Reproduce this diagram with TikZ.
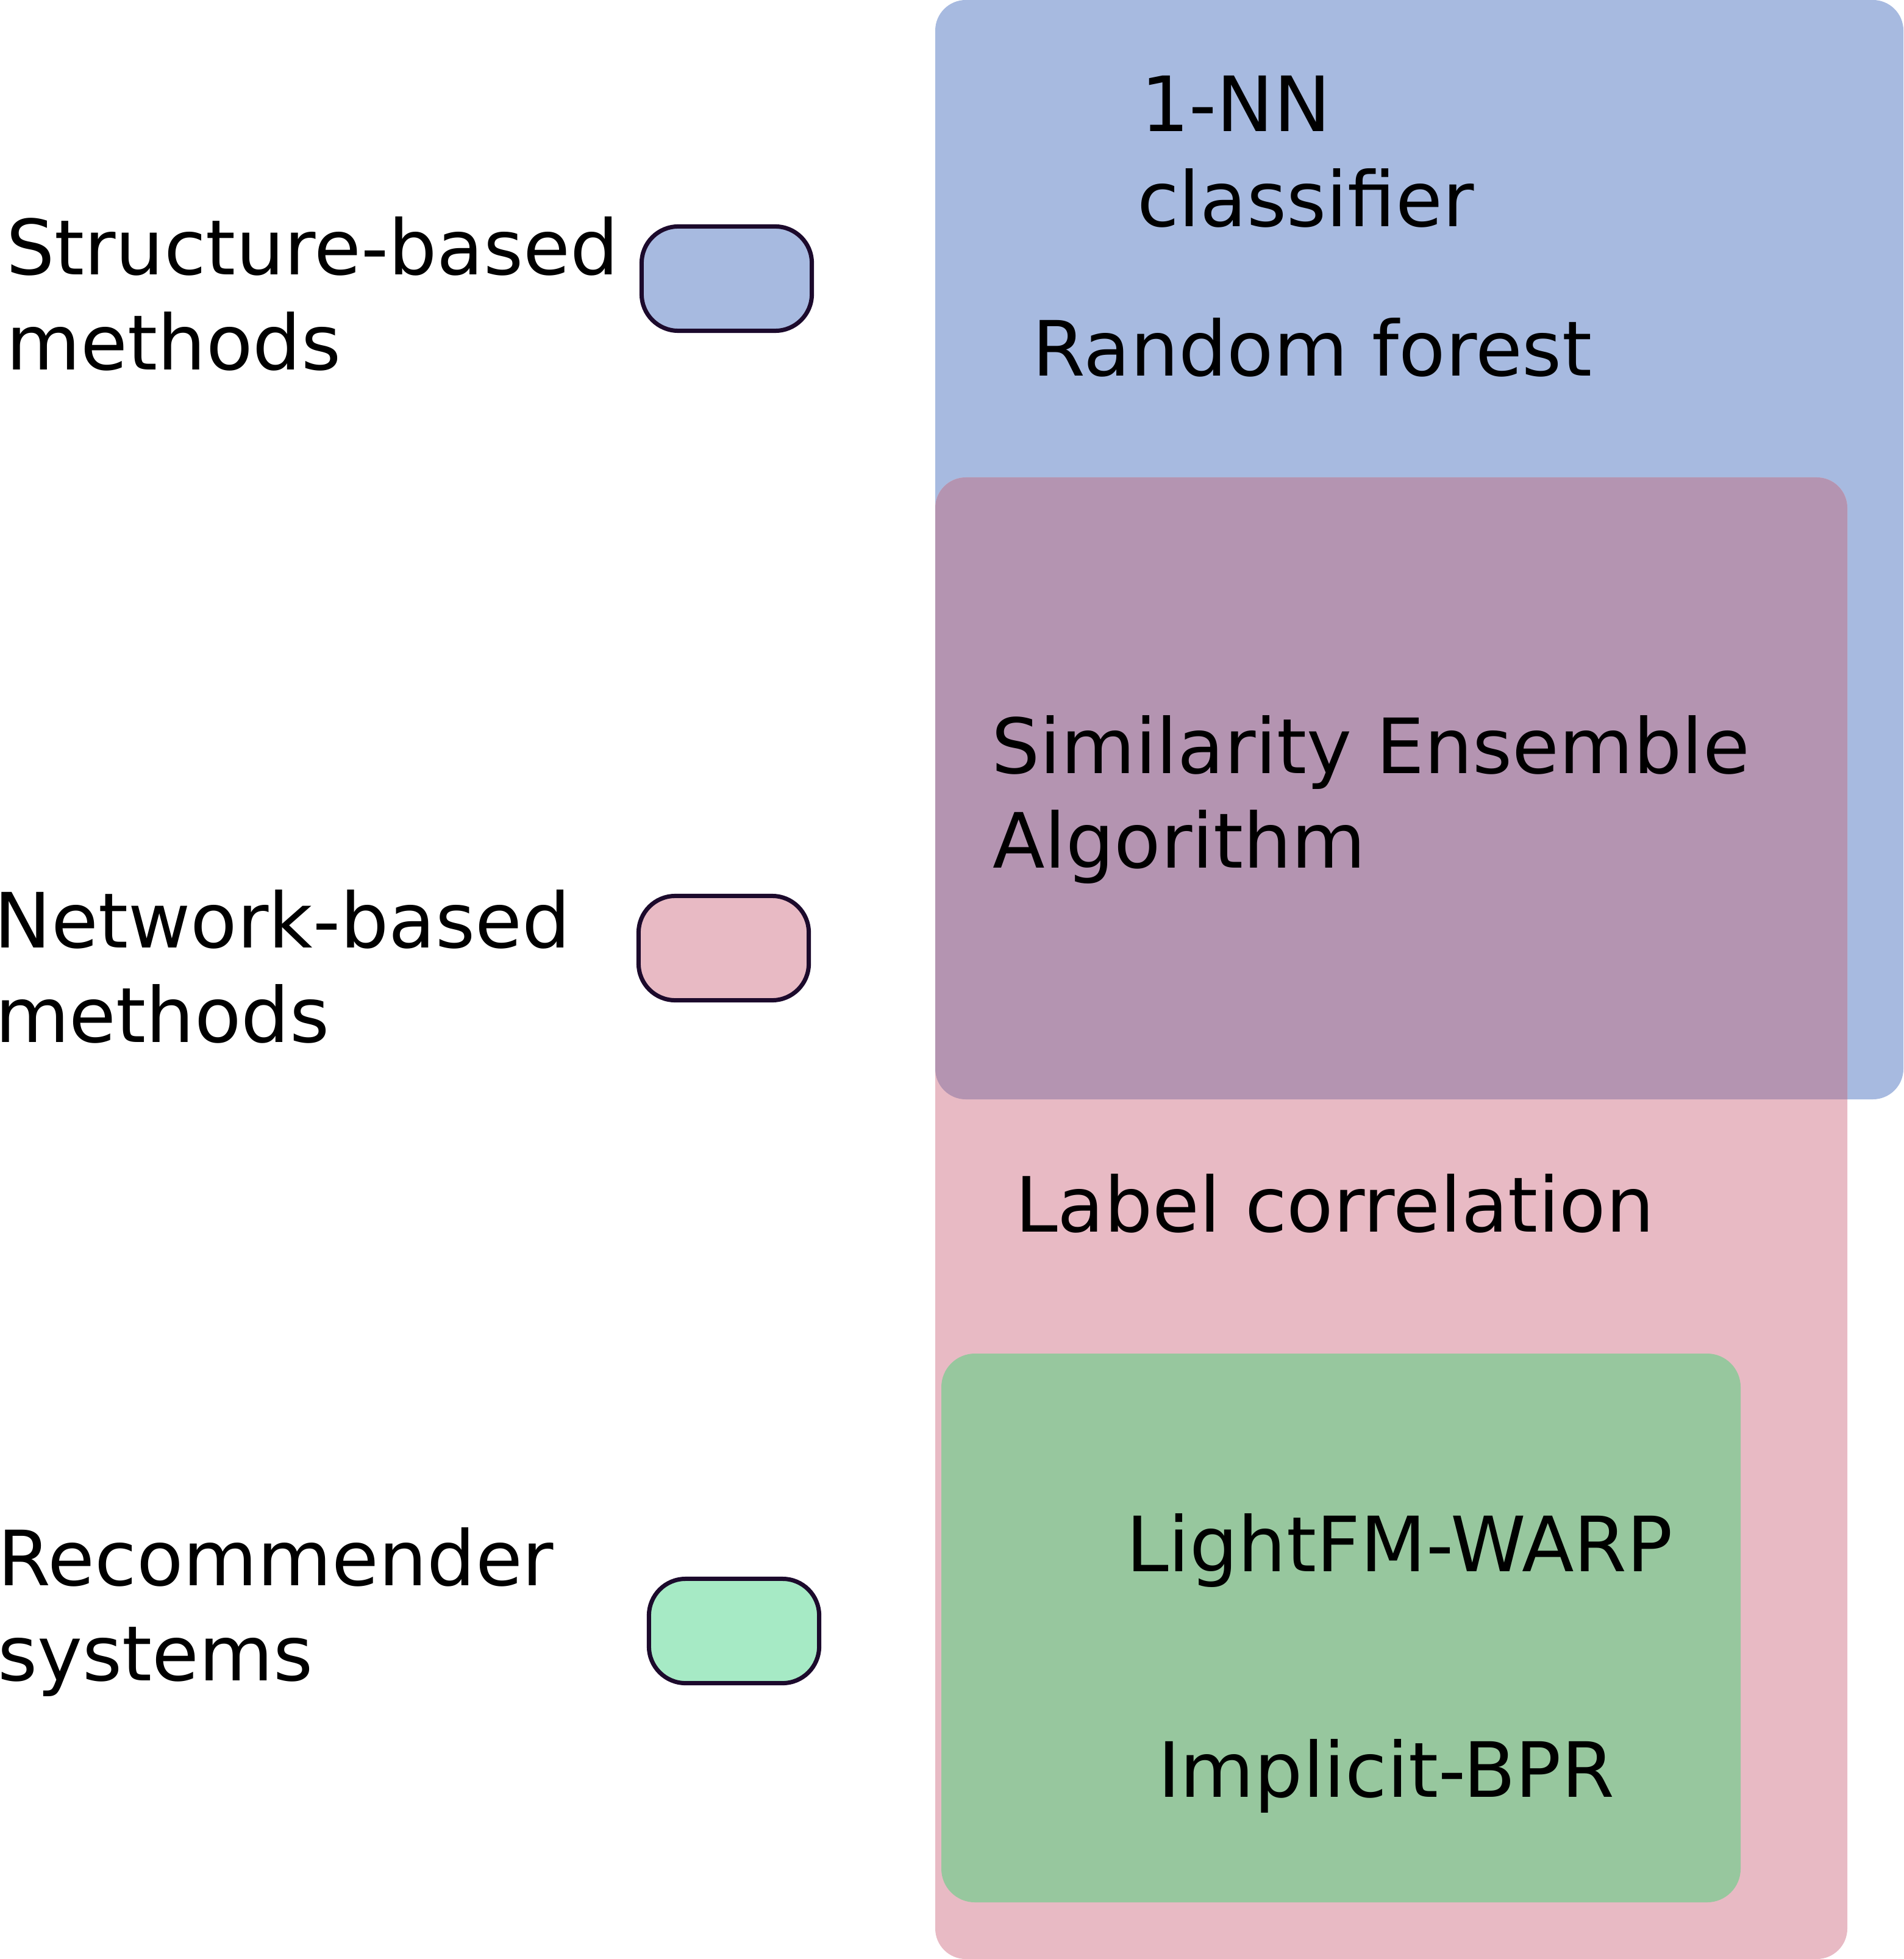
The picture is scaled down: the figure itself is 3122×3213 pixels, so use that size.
\documentclass[tikz,border=0pt]{standalone}
\usepackage{fontspec}
\setmainfont{DejaVu Sans}
\definecolor{blueC}{HTML}{A7BAE0}
\definecolor{pinkC}{HTML}{E8BAC4}
\definecolor{purpC}{HTML}{B494B1}
\definecolor{greenC}{HTML}{97C79E}
\definecolor{mintC}{HTML}{A6EAC5}
\definecolor{bordC}{HTML}{1C0A2C}
\begin{document}
\begin{tikzpicture}[x=0.01cm,y=-0.01cm,
  txt/.style={anchor=base west, inner sep=0pt, outer sep=0pt, font=\fontsize{35.57}{44.4}\selectfont},
  legbox/.style={draw=bordC, line width=0.07cm, rounded corners=0.6cm, minimum width=2.79cm, minimum height=1.71cm, inner sep=0pt},
  region/.style={rounded corners=0.5cm}]
\useasboundingbox (0,0) rectangle (3122,3213);
% regions
\fill[blueC, region] (1534,0) rectangle (3122,1803);
\fill[pinkC, region] (1534,783) rectangle (3030,3213);
\begin{scope}
  \clip[region] (1534,0) rectangle (3122,1803);
  \fill[purpC, region] (1534,783) rectangle (3030,3213);
\end{scope}
\fill[greenC, rounded corners=0.55cm] (1544,2220) rectangle (2855,3120);
% legend
\node[legbox, fill=blueC] (lstruct) at (1192,457) {};
\node[legbox, fill=pinkC] (lnet) at (1187,1555) {};
\node[legbox, fill=mintC] (lrec) at (1204,2675) {};
\node[txt] (t1a) at (10,451) {Structure-based};
\node[txt] (t1b) at (11,607) {methods};
\node[txt] (t2a) at (-9,1554) {Network-based};
\node[txt] (t2b) at (-8,1709) {methods};
\node[txt] (t3a) at (-3,2600) {Recommender};
\node[txt] (t3b) at (-4,2756) {systems};
% region labels
\node[txt] (nn1) at (1871,216) {1-NN};
\node[txt] (nn2) at (1865,372) {classifier};
\node[txt] (rf) at (1693,617) {Random forest};
\node[txt] (sea1) at (1626,1268) {Similarity Ensemble};
\node[txt] (sea2) at (1628,1423) {Algorithm};
\node[txt] (lc) at (1665,2020) {Label correlation};
\node[txt] (lfm) at (1847,2577) {LightFM-WARP};
\node[txt] (bpr) at (1899,2947) {Implicit-BPR};
\end{tikzpicture}
\end{document}
